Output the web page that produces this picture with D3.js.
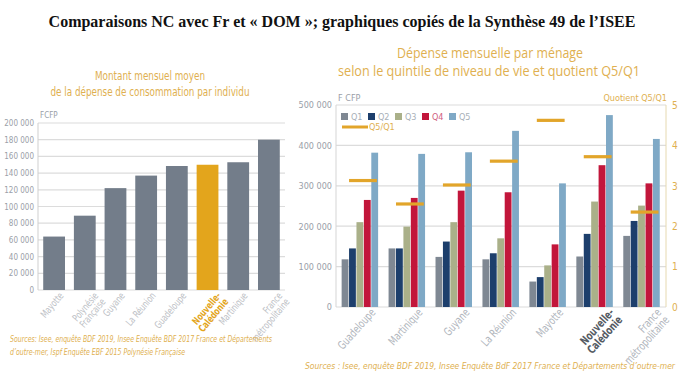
<!DOCTYPE html>
<html><head><meta charset="utf-8">
<script src="https://cdn.jsdelivr.net/npm/d3@7"></script>
<style>
body{margin:0;background:#fff;}
svg{display:block;}
.cond{font-family:"DejaVu Sans Condensed","Open Sans","Roboto",sans-serif;}
</style></head>
<body><svg id="c" width="684" height="385"></svg>
<script>
// ---- Left chart data ----
const leftCategories = ["Mayotte","Polynésie|Française","Guyane","La Réunion","Guadeloupe","Nouvelle-|Calédonie","Martinique","France|métropolitaine"];
const leftValues = [64000, 89000, 122000, 137000, 148500, 150000, 153000, 180000];
const leftTicks = [0,20000,40000,60000,80000,100000,120000,140000,160000,180000,200000];
const leftHighlight = "Nouvelle-|Calédonie";

// ---- Right chart data ----
const rightCategories = ["Guadeloupe","Martinique","Guyane","La Réunion","Mayotte","Nouvelle-|Calédonie","France|métropolitaine"];
const quintiles = ["Q1","Q2","Q3","Q4","Q5"];
const q1 = [118000, 145000, 124000, 118000, 63000, 125000, 176000];
const q2 = [145000, 145000, 162000, 133000, 74000, 181000, 213000];
const q3 = [210000, 199000, 210000, 170000, 103000, 261000, 251000];
const q4 = [265000, 270000, 288000, 284000, 155000, 351000, 306000];
const q5 = [382000, 379000, 383000, 436000, 306000, 475000, 416000];
const ratioQ5Q1 = [3.13, 2.55, 3.02, 3.61, 4.62, 3.72, 2.35];
const rightTicks = [0,100000,200000,300000,400000,500000];
const ratioTicks = [0,1,2,3,4,5];

const qColors = ["#7f8893","#1d3f6c","#aab089","#c2163b","#7fa9c6"];
const gold = "#e2a52a";
const textGold = "#e0b050";
const gray = "#9aa0a8";
const fmt = d => d3.format(",")(d).replace(/,/g," ");

const svg = d3.select("#c");

// Main title
svg.append("text").attr("x",342).attr("y",27).attr("text-anchor","middle")
  .attr("font-family","'Liberation Serif','Times New Roman',serif").attr("font-weight","bold")
  .attr("font-size",16).attr("fill","#111")
  .text("Comparaisons NC avec Fr et « DOM »; graphiques copiés de la Synthèse 49 de l’ISEE");

// ================= LEFT CHART =================
{
  const L = {x0:38, x1:285, y0:290, y1:123};
  const x = d3.scaleBand().domain(leftCategories).range([L.x0,L.x1]).paddingInner(0.29).paddingOuter(0.17);
  const y = d3.scaleLinear().domain([0,200000]).range([L.y0,L.y1]);
  const g = svg.append("g").attr("class","cond");

  g.append("text").attr("x",150).attr("y",80).attr("text-anchor","middle").attr("font-size",11.5).attr("fill",textGold)
    .attr("textLength",110).attr("lengthAdjust","spacingAndGlyphs").text("Montant mensuel moyen");
  g.append("text").attr("x",150).attr("y",96).attr("text-anchor","middle").attr("font-size",11.5).attr("fill",textGold)
    .attr("textLength",199).attr("lengthAdjust","spacingAndGlyphs").text("de la dépense de consommation par individu");

  // grid
  g.selectAll(".gl").data(leftTicks).join("line")
    .attr("x1",L.x0).attr("x2",L.x1).attr("y1",d=>y(d)).attr("y2",d=>y(d))
    .attr("stroke","#dcdcdc").attr("stroke-width",1.2);
  g.append("line").attr("x1",L.x0).attr("x2",L.x0).attr("y1",L.y1).attr("y2",L.y0).attr("stroke","#cfcfcf");

  const ax = d3.axisLeft(y).tickValues(leftTicks).tickFormat(fmt).tickSize(0).tickPadding(4);
  const ag = g.append("g").attr("transform",`translate(${L.x0},0)`).call(ax);
  ag.select(".domain").remove();
  ag.selectAll("text").attr("font-size",8).attr("fill",gray).attr("font-family","'DejaVu Sans Condensed',sans-serif");
  g.append("text").attr("x",40).attr("y",118).attr("font-size",8).attr("fill",gray).text("FCFP");

  g.selectAll(".bar").data(leftCategories).join("rect")
    .attr("x",d=>x(d)).attr("width",x.bandwidth())
    .attr("y",(d,i)=>y(leftValues[i])).attr("height",(d,i)=>y(0)-y(leftValues[i]))
    .attr("fill",d=> d===leftHighlight ? "#e3a51c" : "#737d8a");

  leftCategories.forEach(c=>{
    const lines = c.split("|");
    const cx = x(c)+x.bandwidth()/2+10 + (lines.length-1)*4;
    const t = g.append("text").attr("transform",`translate(${cx},${L.y0+6}) rotate(-50) scale(0.8,1)`)
      .attr("text-anchor","end").attr("font-size",10)
      .attr("fill", c===leftHighlight ? "#e3a51c" : "#bcc0c5")
      .attr("font-weight", c===leftHighlight ? "bold" : "normal");
    lines.forEach((ln,i)=>{
      t.append("tspan").attr("x",0).attr("dy", i===0 ? "0px" : "9.5px").text(ln);
    });
  });

  g.append("text").attr("x",10).attr("y",342).attr("font-size",8).attr("font-style","italic").attr("fill",textGold)
    .attr("textLength",262).attr("lengthAdjust","spacingAndGlyphs")
    .text("Sources: Isee, enquête BDF 2019, Insee Enquête BDF 2017 France et Départements");
  g.append("text").attr("x",10).attr("y",355).attr("font-size",8).attr("font-style","italic").attr("fill",textGold)
    .attr("textLength",175).attr("lengthAdjust","spacingAndGlyphs")
    .text("d’outre-mer, Ispf Enquête EBF 2015 Polynésie Française");
}

// ================= RIGHT CHART =================
{
  const R = {x0:336, x1:666, y0:307, y1:105};
  const x = d3.scaleBand().domain(rightCategories).range([R.x0,R.x1]).paddingInner(0.21).paddingOuter(0.12);
  const xq = d3.scaleBand().domain(quintiles).range([0,x.bandwidth()]).padding(0);
  const y = d3.scaleLinear().domain([0,500000]).range([R.y0,R.y1]);
  const yr = d3.scaleLinear().domain([0,5]).range([R.y0,R.y1]);
  const series = [q1,q2,q3,q4,q5];
  const g = svg.append("g").attr("class","cond");

  g.append("text").attr("x",490).attr("y",58).attr("text-anchor","middle").attr("font-size",14).attr("fill",textGold)
    .attr("font-family","'Open Sans','DejaVu Sans',sans-serif").attr("textLength",186).attr("lengthAdjust","spacingAndGlyphs").text("Dépense mensuelle par ménage");
  g.append("text").attr("x",489).attr("y",76).attr("text-anchor","middle").attr("font-size",14).attr("fill",textGold)
    .attr("font-family","'Open Sans','DejaVu Sans',sans-serif").attr("textLength",302).attr("lengthAdjust","spacingAndGlyphs").text("selon le quintile de niveau de vie et quotient Q5/Q1");

  g.selectAll(".gl").data(rightTicks).join("line")
    .attr("x1",R.x0).attr("x2",R.x1).attr("y1",d=>y(d)).attr("y2",d=>y(d))
    .attr("stroke","#dcdcdc").attr("stroke-width",1.2);
  g.append("line").attr("x1",R.x0).attr("x2",R.x0).attr("y1",R.y1).attr("y2",R.y0).attr("stroke","#d5d5d5");
  g.append("line").attr("x1",R.x1).attr("x2",R.x1).attr("y1",R.y1).attr("y2",R.y0).attr("stroke","#e6d9b0");

  const ax = d3.axisLeft(y).tickValues(rightTicks).tickFormat(fmt).tickSize(0).tickPadding(4);
  const ag = g.append("g").attr("transform",`translate(${R.x0},0)`).call(ax);
  ag.select(".domain").remove();
  ag.selectAll("text").attr("font-size",9).attr("fill",gray).attr("font-family","'DejaVu Sans Condensed',sans-serif");

  const ar = d3.axisRight(yr).tickValues(ratioTicks).tickFormat(d3.format("d")).tickSize(0).tickPadding(6);
  const arg = g.append("g").attr("transform",`translate(${R.x1},0)`).call(ar);
  arg.select(".domain").remove();
  arg.selectAll("text").attr("font-size",10).attr("fill",textGold).attr("font-family","'DejaVu Sans Condensed',sans-serif");

  g.append("text").attr("x",338).attr("y",101).attr("font-size",9).attr("fill",gray).text("F CFP");
  g.append("text").attr("x",667).attr("y",101).attr("text-anchor","end").attr("font-size",9).attr("fill",textGold).text("Quotient Q5/Q1");

  const grp = g.selectAll(".grp").data(rightCategories).join("g").attr("transform",d=>`translate(${x(d)},0)`);
  quintiles.forEach((q,qi)=>{
    grp.append("rect")
      .attr("x",xq(q)).attr("width",xq.bandwidth()-0.6)
      .attr("y",(d,i)=>y(series[qi][i])).attr("height",(d,i)=>y(0)-y(series[qi][i]))
      .attr("fill",qColors[qi]);
  });
  grp.append("line")
    .attr("x1",x.bandwidth()*0.2).attr("x2",x.bandwidth()*0.95)
    .attr("y1",(d,i)=>yr(ratioQ5Q1[i])).attr("y2",(d,i)=>yr(ratioQ5Q1[i]))
    .attr("stroke",gold).attr("stroke-width",3.2);

  // legend
  quintiles.forEach((q,qi)=>{
    const lx = 341 + qi*27;
    g.append("rect").attr("x",lx).attr("y",113).attr("width",7).attr("height",7).attr("fill",qColors[qi]);
    g.append("text").attr("x",lx+10).attr("y",120).attr("font-size",9).attr("fill",qi===3?"#d06080":"#a8b0b8").text(q);
  });
  g.append("line").attr("x1",342).attr("x2",368).attr("y1",127).attr("y2",127).attr("stroke",gold).attr("stroke-width",3);
  g.append("text").attr("x",369).attr("y",130).attr("font-size",9).attr("fill",textGold).text("Q5/Q1");

  rightCategories.forEach(c=>{
    const lines = c.split("|");
    const nc = c.startsWith("Nouvelle");
    const cx = x(c)+x.bandwidth()/2+16 + (lines.length-1)*4;
    const t = g.append("text").attr("transform",`translate(${cx},${R.y0+6}) rotate(-48) scale(0.8,1)`)
      .attr("text-anchor","end").attr("font-size",11.5)
      .attr("fill", nc ? "#555b63" : "#b0b5bc")
      .attr("font-weight", nc ? "bold" : "normal");
    lines.forEach((ln,i)=>{
      t.append("tspan").attr("x",0).attr("dy", i===0 ? "0px" : "11px").text(ln);
    });
  });

  g.append("text").attr("x",305).attr("y",369).attr("font-size",8).attr("font-style","italic").attr("fill",textGold)
    .attr("textLength",370).attr("lengthAdjust","spacingAndGlyphs")
    .text("Sources : Isee, enquête BDF 2019, Insee Enquête BdF 2017 France et Départements d’outre-mer");
}
</script></body></html>
